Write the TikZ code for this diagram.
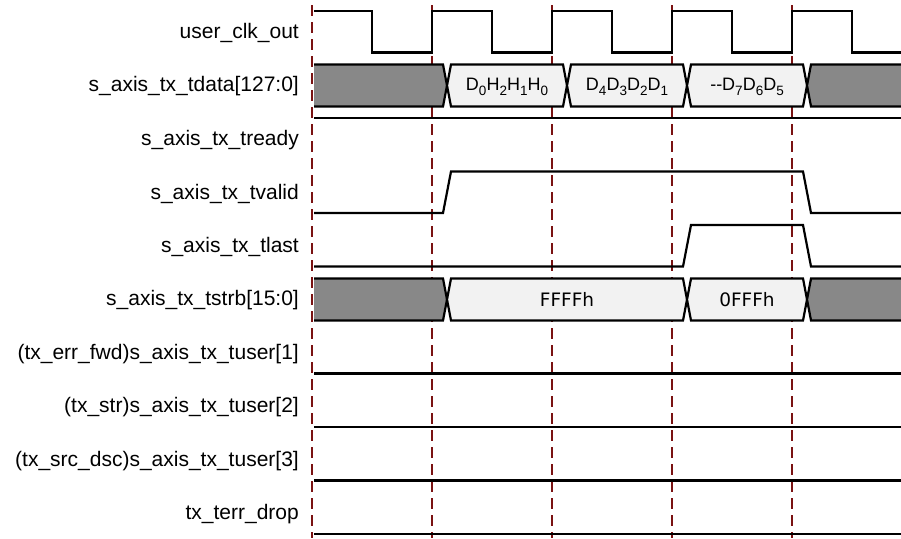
\documentclass[tikz,border=0pt]{standalone}
\usepackage{fontspec}
\setmainfont{Liberation Sans}
\newfontfamily\strbfont{DejaVu Sans}
\definecolor{busgray}{RGB}{136,136,136}
\definecolor{buswhite}{RGB}{242,242,242}
\definecolor{edgered}{RGB}{122,18,18}
\newcommand{\bsub}[1]{\raisebox{-5.5pt}{\fontsize{13.5}{15}\selectfont #1}}

\begin{document}
\begin{tikzpicture}[x=1pt,y=-1pt,
  sig/.style={line width=2.2pt},
  clkedge/.style={edgered,line width=1.3pt,dash pattern=on 11pt off 6pt},
  lbl/.style={anchor=east,inner sep=0pt,font=\fontsize{21}{25}\selectfont},
  bustxt/.style={inner sep=0pt,font=\fontsize{18}{21}\selectfont}]
\useasboundingbox (0,0) rectangle (901,538);
% rising edges of the clock
\foreach \x in {312,432,...,792}{
  \draw[clkedge] (\x,5) -- (\x,538);
}
% signal names
\foreach \n/\t [count=\i from 0] in {clk/{user\_clk\_out},tdata/{s\_axis\_tx\_tdata[127:0]},
    tready/{s\_axis\_tx\_tready},tvalid/{s\_axis\_tx\_tvalid},tlast/{s\_axis\_tx\_tlast},
    tstrb/{s\_axis\_tx\_tstrb[15:0]},errfwd/{(tx\_err\_fwd)s\_axis\_tx\_tuser[1]},
    str/{(tx\_str)s\_axis\_tx\_tuser[2]},srcdsc/{(tx\_src\_dsc)s\_axis\_tx\_tuser[3]},
    terrdrop/{tx\_terr\_drop}}{
  \node[lbl] (\n) at (299,{33+53.5*\i}) {\t};
}
% user_clk_out
\draw[sig] (314,11) foreach \x in {372,492,612,732}{ -- (\x,11) -- (\x,52.5) -- ({\x+60},52.5) -- ({\x+60},11)}
  -- (852,11) -- (852,52.5) -- (901,52.5);
% tdata bus
\fill[busgray] (314,64.5) -- (443,64.5) -- (447,85.5) -- (443,106.5) -- (314,106.5) -- cycle;
\draw[sig] (314,64.5) -- (443,64.5) -- (447,85.5) -- (443,106.5) -- (314,106.5);
\foreach \a/\b/\t [count=\k] in {447/567/{D\bsub{0}H\bsub{2}H\bsub{1}H\bsub{0}},
    567/687/{D\bsub{4}D\bsub{3}D\bsub{2}D\bsub{1}},
    687/807/{-{}-D\bsub{7}D\bsub{6}D\bsub{5}}}{
  \filldraw[sig,fill=buswhite] (\a,85.5) -- ({\a+4},64.5) -- ({\b-4},64.5) -- (\b,85.5) -- ({\b-4},106.5) -- ({\a+4},106.5) -- cycle;
  \node[bustxt] (data\k) at ({(\a+\b)/2},87) {\t};
}
\fill[busgray] (901,64.5) -- (811,64.5) -- (807,85.5) -- (811,106.5) -- (901,106.5) -- cycle;
\draw[sig] (901,64.5) -- (811,64.5) -- (807,85.5) -- (811,106.5) -- (901,106.5);
% tready, tvalid, tlast
\draw[sig] (314,118) -- (901,118);
\draw[sig] (314,213) -- (443,213) -- (451,171.5) -- (803,171.5) -- (811,213) -- (901,213);
\draw[sig] (314,266.5) -- (683,266.5) -- (691,225) -- (803,225) -- (811,266.5) -- (901,266.5);
% tstrb bus
\fill[busgray] (314,278.5) -- (443,278.5) -- (447,299.5) -- (443,320.5) -- (314,320.5) -- cycle;
\draw[sig] (314,278.5) -- (443,278.5) -- (447,299.5) -- (443,320.5) -- (314,320.5);
\foreach \a/\b/\t [count=\k] in {447/687/FFFFh,687/807/0FFFh}{
  \filldraw[sig,fill=buswhite] (\a,299.5) -- ({\a+4},278.5) -- ({\b-4},278.5) -- (\b,299.5) -- ({\b-4},320.5) -- ({\a+4},320.5) -- cycle;
  \node[bustxt,font=\strbfont\fontsize{18.5}{22}\selectfont] (strb\k) at ({(\a+\b)/2},299.5) {\t};
}
\fill[busgray] (901,278.5) -- (811,278.5) -- (807,299.5) -- (811,320.5) -- (901,320.5) -- cycle;
\draw[sig] (901,278.5) -- (811,278.5) -- (807,299.5) -- (811,320.5) -- (901,320.5);
% tuser bits and terr_drop stay low
\foreach \y in {373.5,427,480.5,534}{
  \draw[sig] (314,\y) -- (901,\y);
}
\end{tikzpicture}
\end{document}
